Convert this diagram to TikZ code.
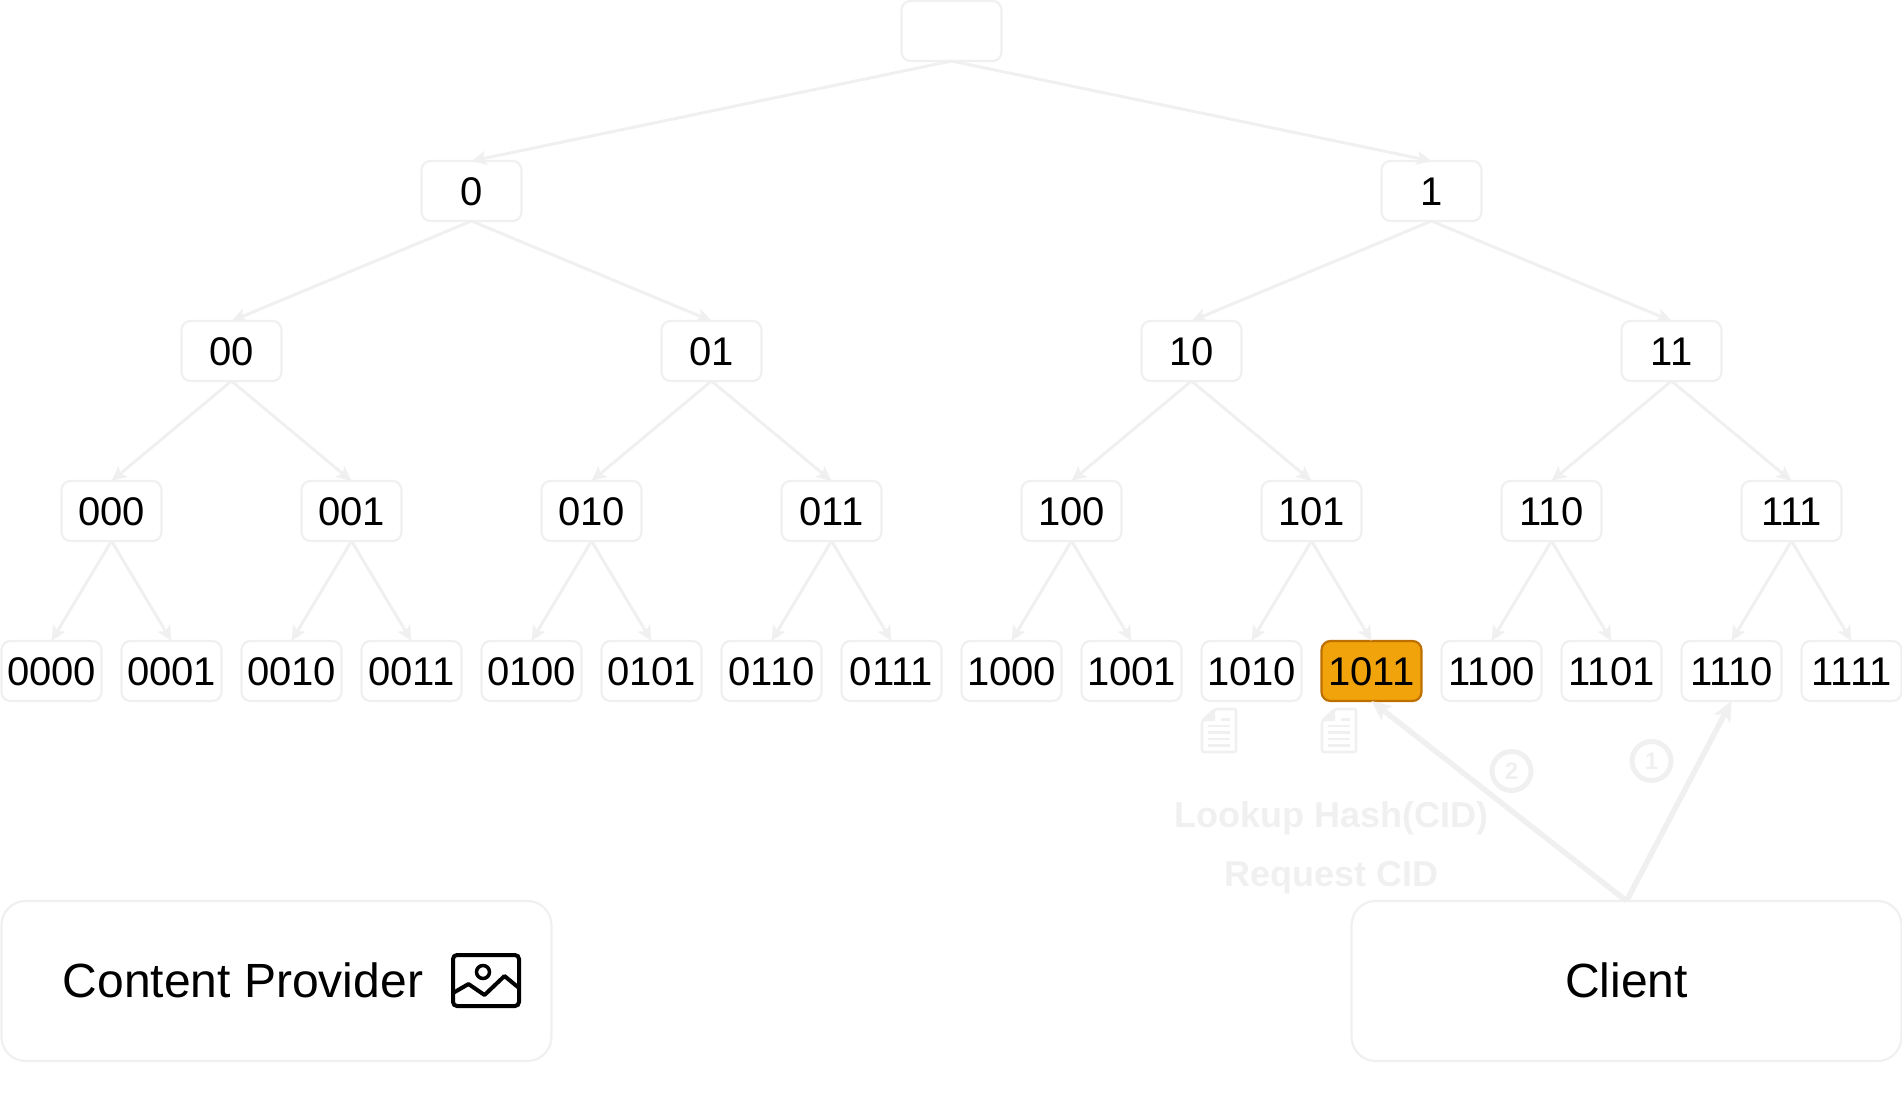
\documentclass[tikz,border=0pt]{standalone}
\usepackage{fontspec}
\setmainfont{Liberation Sans}
\usetikzlibrary{arrows.meta}
\definecolor{faint}{HTML}{F0F0F0}
\definecolor{hitfill}{HTML}{F0A30A}
\definecolor{hitline}{HTML}{BD7000}
\tikzset{
  key/.style={draw=faint,line width=2.2pt,fill=white,rounded corners=9pt,minimum width=100pt,minimum height=60pt,inner sep=0pt,outer sep=0pt,text height=29.5pt,text depth=0pt,font=\fontsize{40}{48}\selectfont},
  hit/.style={key,draw=hitline,fill=hitfill},
  peer/.style={draw=faint,line width=2.2pt,fill=white,rounded corners=24pt,minimum width=550pt,minimum height=160pt,inner sep=0pt,outer sep=0pt},
  edge/.style={draw=faint,line width=3pt,-{Stealth[length=15pt,width=14pt,inset=3.5pt]}},
  hop/.style={draw=faint,line width=5.5pt,-{Stealth[length=20pt,width=18pt,inset=5pt]}},
  hopnum/.style={circle,draw=faint,line width=5pt,minimum size=39pt,inner sep=0pt,text=faint,font=\fontsize{24}{28}\bfseries\selectfont},
  faintlabel/.style={text=faint,inner sep=0pt,font=\fontsize{36}{42}\bfseries\selectfont},
  biglabel/.style={inner sep=0pt,font=\fontsize{48}{56}\selectfont}
}
\newcommand{\docicon}[2]{
  \draw[faint,line width=2.6pt,line join=round,rounded corners=2pt] (#1+13,#2) -- (#1+34,#2) -- (#1+34,#2+43) -- (#1,#2+43) -- (#1,#2+12) -- cycle;
  \fill[faint] (#1,#2+12) -- (#1+13,#2) -- (#1+13,#2+12) -- cycle;
  \draw[faint,line width=2.8pt] (#1+19,#2+10.5) -- (#1+28,#2+10.5) (#1+6,#2+17) -- (#1+28,#2+17) (#1+6,#2+23.5) -- (#1+28,#2+23.5) (#1+6,#2+30) -- (#1+28,#2+30) (#1+6,#2+36.5) -- (#1+28,#2+36.5);
}
\begin{document}
\begin{tikzpicture}[x=1pt,y=-1pt]
\useasboundingbox (-0.5,0) rectangle (1901.5,1099);

\node[key] (root) at (951,31) {};

\node[key] (n0) at (471,191) {0};
\node[key] (n1) at (1431,191) {1};

\node[key] (n00) at (231,351) {00};
\node[key] (n01) at (711,351) {01};
\node[key] (n10) at (1191,351) {10};
\node[key] (n11) at (1671,351) {11};

\node[key] (n000) at (111,511) {000};
\node[key] (n001) at (351,511) {001};
\node[key] (n010) at (591,511) {010};
\node[key] (n011) at (831,511) {011};
\node[key] (n100) at (1071,511) {100};
\node[key] (n101) at (1311,511) {101};
\node[key] (n110) at (1551,511) {110};
\node[key] (n111) at (1791,511) {111};

\node[key] (n0000) at (51,671) {0000};
\node[key] (n0001) at (171,671) {0001};
\node[key] (n0010) at (291,671) {0010};
\node[key] (n0011) at (411,671) {0011};
\node[key] (n0100) at (531,671) {0100};
\node[key] (n0101) at (651,671) {0101};
\node[key] (n0110) at (771,671) {0110};
\node[key] (n0111) at (891,671) {0111};
\node[key] (n1000) at (1011,671) {1000};
\node[key] (n1001) at (1131,671) {1001};
\node[key] (n1010) at (1251,671) {1010};
\node[hit] (n1011) at (1371,671) {1011};
\node[key] (n1100) at (1491,671) {1100};
\node[key] (n1101) at (1611,671) {1101};
\node[key] (n1110) at (1731,671) {1110};
\node[key] (n1111) at (1851,671) {1111};

\draw[edge] (root.south) -- (n0.north);
\draw[edge] (root.south) -- (n1.north);
\draw[edge] (n0.south) -- (n00.north);
\draw[edge] (n0.south) -- (n01.north);
\draw[edge] (n1.south) -- (n10.north);
\draw[edge] (n1.south) -- (n11.north);
\draw[edge] (n00.south) -- (n000.north);
\draw[edge] (n00.south) -- (n001.north);
\draw[edge] (n01.south) -- (n010.north);
\draw[edge] (n01.south) -- (n011.north);
\draw[edge] (n10.south) -- (n100.north);
\draw[edge] (n10.south) -- (n101.north);
\draw[edge] (n11.south) -- (n110.north);
\draw[edge] (n11.south) -- (n111.north);
\draw[edge] (n000.south) -- (n0000.north);
\draw[edge] (n000.south) -- (n0001.north);
\draw[edge] (n001.south) -- (n0010.north);
\draw[edge] (n001.south) -- (n0011.north);
\draw[edge] (n010.south) -- (n0100.north);
\draw[edge] (n010.south) -- (n0101.north);
\draw[edge] (n011.south) -- (n0110.north);
\draw[edge] (n011.south) -- (n0111.north);
\draw[edge] (n100.south) -- (n1000.north);
\draw[edge] (n100.south) -- (n1001.north);
\draw[edge] (n101.south) -- (n1010.north);
\draw[edge] (n101.south) -- (n1011.north);
\draw[edge] (n110.south) -- (n1100.north);
\draw[edge] (n110.south) -- (n1101.north);
\draw[edge] (n111.south) -- (n1110.north);
\draw[edge] (n111.south) -- (n1111.north);

\node[peer] (provider) at (276,981) {};
\node[peer] (client) at (1626,981) {};
\node[biglabel] (providertext) at (242.5,980) {Content Provider};
\node[biglabel] (clienttext) at (1626,980) {Client};

% picture icon
\draw[line width=4pt,rounded corners=4pt] (452.5,955) rectangle (518.5,1006);
\draw[line width=4pt,line join=round] (452.5,993) -- (468,984) -- (484,995) -- (504,976) -- (518.5,988);
\draw[line width=3.5pt] (482.5,972) circle (6.5pt);

\draw[hop] (client.north) -- (n1011.south);
\draw[hop] (client.north) -- (n1110.south);
\node[hopnum] (hop2) at (1511,771) {2};
\node[hopnum] (hop1) at (1651,761) {1};

\docicon{1201.5}{709}
\docicon{1321.5}{709}

\node[faintlabel] (lookup) at (1331,818.5) {Lookup Hash(CID)};
\node[faintlabel] (request) at (1331,877.5) {Request CID};
\end{tikzpicture}
\end{document}
